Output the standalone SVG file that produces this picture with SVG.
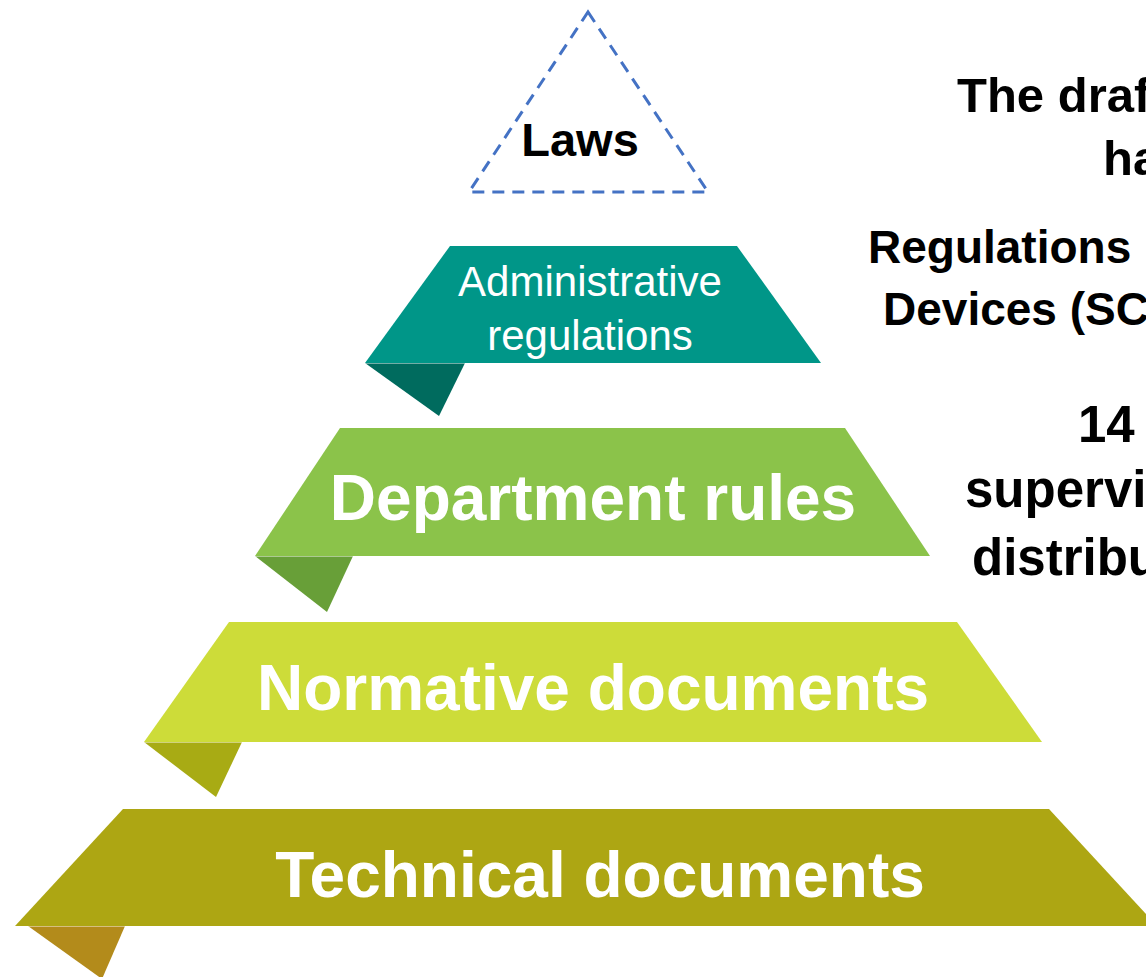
<svg xmlns="http://www.w3.org/2000/svg" width="1146" height="977" viewBox="0 0 1146 977">
  <style>
    .lbl { font-family: "Liberation Sans", Arial, sans-serif; fill: #ffffff; text-anchor: middle; }
    .bold { font-weight: bold; }
    .side { font-family: "Liberation Sans", Arial, sans-serif; font-weight: bold; fill: #000000; }
    .edge { stroke: #ffffff; stroke-opacity: 0.45; stroke-width: 1; }
  </style>
  <rect width="1146" height="977" fill="#ffffff"/>

  <!-- apex: laws -->
  <g id="laws">
    <polygon points="588,12 708,192 469,192" fill="none" stroke="#4472C4" stroke-width="3" stroke-dasharray="12 8"/>
    <text x="580" y="156" class="lbl bold" style="fill:#000000;font-size:47px">Laws</text>
  </g>

  <!-- tier 1 -->
  <g id="administrative-regulations">
    <polygon points="365,363 465,363 439,416" fill="#006B5E"/>
    <polygon points="450,246 737,246 821,363 365,363" fill="#009688"/>
    <line x1="365" y1="363.5" x2="465" y2="363.5" class="edge"/>
    <text class="lbl" style="font-size:42px"><tspan x="590" y="296">Administrative</tspan><tspan x="590" y="350">regulations</tspan></text>
  </g>

  <!-- tier 2 -->
  <g id="department-rules">
    <polygon points="255,556 353,556 327,612" fill="#689F38"/>
    <polygon points="340,428 845,428 930,556 255,556" fill="#8BC34A"/>
    <line x1="255" y1="556.5" x2="353" y2="556.5" class="edge"/>
    <text x="593" y="520" class="lbl bold" style="font-size:64px">Department rules</text>
  </g>

  <!-- tier 3 -->
  <g id="normative-documents">
    <polygon points="144,742 242,742 216,797" fill="#A8AB14"/>
    <polygon points="229,622 957,622 1042,742 144,742" fill="#CDDC39"/>
    <line x1="144" y1="742.5" x2="242" y2="742.5" class="edge"/>
    <text x="593" y="710" class="lbl bold" style="font-size:64px">Normative documents</text>
  </g>

  <!-- tier 4 -->
  <g id="technical-documents">
    <polygon points="28,926 125,926 102,979" fill="#B38B1B"/>
    <polygon points="123,809 1049,809 1157,926 15,926" fill="#ADA613"/>
    <line x1="15" y1="926.5" x2="125" y2="926.5" class="edge"/>
    <text x="600" y="897" class="lbl bold" style="font-size:64px">Technical documents</text>
  </g>

  <!-- descriptions at the right -->
  <g id="notes">
    <text class="side" style="font-size:49px"><tspan x="957" y="112">The draf</tspan><tspan x="1103" y="175">ha</tspan></text>
    <text class="side" style="font-size:46px"><tspan x="868" y="263">Regulations</tspan><tspan x="883" y="325">Devices (SC</tspan></text>
    <text class="side" style="font-size:51px"><tspan x="1078" y="442">14</tspan><tspan x="965" y="507">supervi</tspan><tspan x="972" y="575">distribu</tspan></text>
  </g>

  <g id="connectors"/>
</svg>
